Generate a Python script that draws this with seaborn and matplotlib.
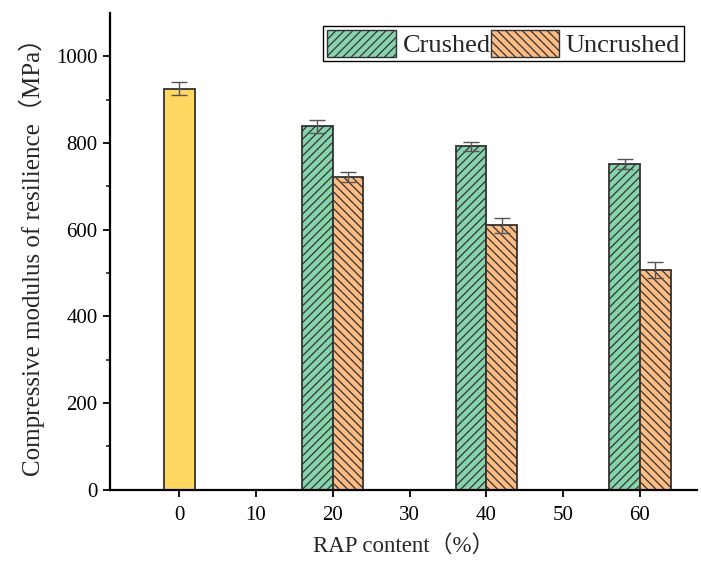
import numpy as np
import pandas as pd
import matplotlib
matplotlib.use("Agg")
import matplotlib.pyplot as plt
from matplotlib.patches import Patch
import seaborn as sns

# ---- data ----
control_content = [0]
control_value = [925]
control_err = [15]

rap_content = [20, 40, 60]
crushed_value = [838, 792, 751]
crushed_err = [16, 10, 11]
uncrushed_value = [722, 610, 507]
uncrushed_err = [12, 18, 19]

x_ticks = [0, 10, 20, 30, 40, 50, 60]
y_ticks = [0, 200, 400, 600, 800, 1000]

bar_w = 4
yellow = "#FFD862"
green = "#86D3AC"
orange = "#FFBC85"
edge = "#333333"

sns.set_theme(style="ticks")
plt.rcParams["font.family"] = ["Liberation Serif", "Noto Sans CJK SC", "DejaVu Sans"]
plt.rcParams["hatch.linewidth"] = 0.9

fig = plt.figure(figsize=(7.01, 5.61), dpi=100)
ax = fig.add_axes([0.157, 0.127, 0.838, 0.85])

df_c = pd.DataFrame({"x": control_content, "y": control_value})
df_cr = pd.DataFrame({"x": [c - bar_w / 2 for c in rap_content], "y": crushed_value})
df_un = pd.DataFrame({"x": [c + bar_w / 2 for c in rap_content], "y": uncrushed_value})

sns.barplot(data=df_c, x="x", y="y", native_scale=True, width=bar_w, color=yellow,
            saturation=1, edgecolor=edge, linewidth=1.3, errorbar=None, ax=ax)
sns.barplot(data=df_cr, x="x", y="y", native_scale=True, width=bar_w / 20, color=green,
            saturation=1, edgecolor=edge, linewidth=1.3, errorbar=None, hatch="////", ax=ax)
sns.barplot(data=df_un, x="x", y="y", native_scale=True, width=bar_w / 20, color=orange,
            saturation=1, edgecolor=edge, linewidth=1.3, errorbar=None, hatch="\\\\\\\\", ax=ax)

ekw = dict(fmt="none", ecolor="#555555", elinewidth=1.0, capsize=6, capthick=1.0)
ax.errorbar(df_c["x"], df_c["y"], yerr=control_err, **ekw)
ax.errorbar(df_cr["x"], df_cr["y"], yerr=crushed_err, **ekw)
ax.errorbar(df_un["x"], df_un["y"], yerr=uncrushed_err, **ekw)

ax.set_xlim(-9, 67.5)
ax.set_ylim(0, 1100)
ax.set_xticks(x_ticks)
ax.set_xticklabels([str(v) for v in x_ticks])
ax.set_yticks(y_ticks)
ax.set_yticks(np.arange(100, 1100, 200), minor=True)
ax.tick_params(axis="both", which="major", direction="out", length=5, width=1.3,
               labelsize=15, colors="black")
ax.tick_params(axis="x", which="major", pad=7)
ax.tick_params(axis="y", which="major", pad=4)
ax.tick_params(axis="y", which="minor", direction="out", length=3, width=1.2)
for s in ["top", "right"]:
    ax.spines[s].set_visible(False)
for s in ["left", "bottom"]:
    ax.spines[s].set_linewidth(1.6)
    ax.spines[s].set_color("black")

ax.set_xlabel("RAP content（%）", fontsize=16.5, labelpad=7)
ax.set_ylabel("Compressive modulus of resilience（MPa）", fontsize=18, labelpad=8)

handles = [Patch(facecolor=green, edgecolor=edge, hatch="////", linewidth=1.0, label="Crushed"),
           Patch(facecolor=orange, edgecolor=edge, hatch="\\\\\\\\", linewidth=1.0, label="Uncrushed")]
leg = ax.legend(handles=handles, loc="upper right", ncol=2, fontsize=19,
                frameon=True, fancybox=False, framealpha=1, edgecolor="black",
                handlelength=2.6, handleheight=1.2, handletextpad=0.25,
                columnspacing=0.0, borderpad=0.15, borderaxespad=0.5)
leg.get_frame().set_linewidth(1.0)

fig.savefig("out.png", dpi=100)
